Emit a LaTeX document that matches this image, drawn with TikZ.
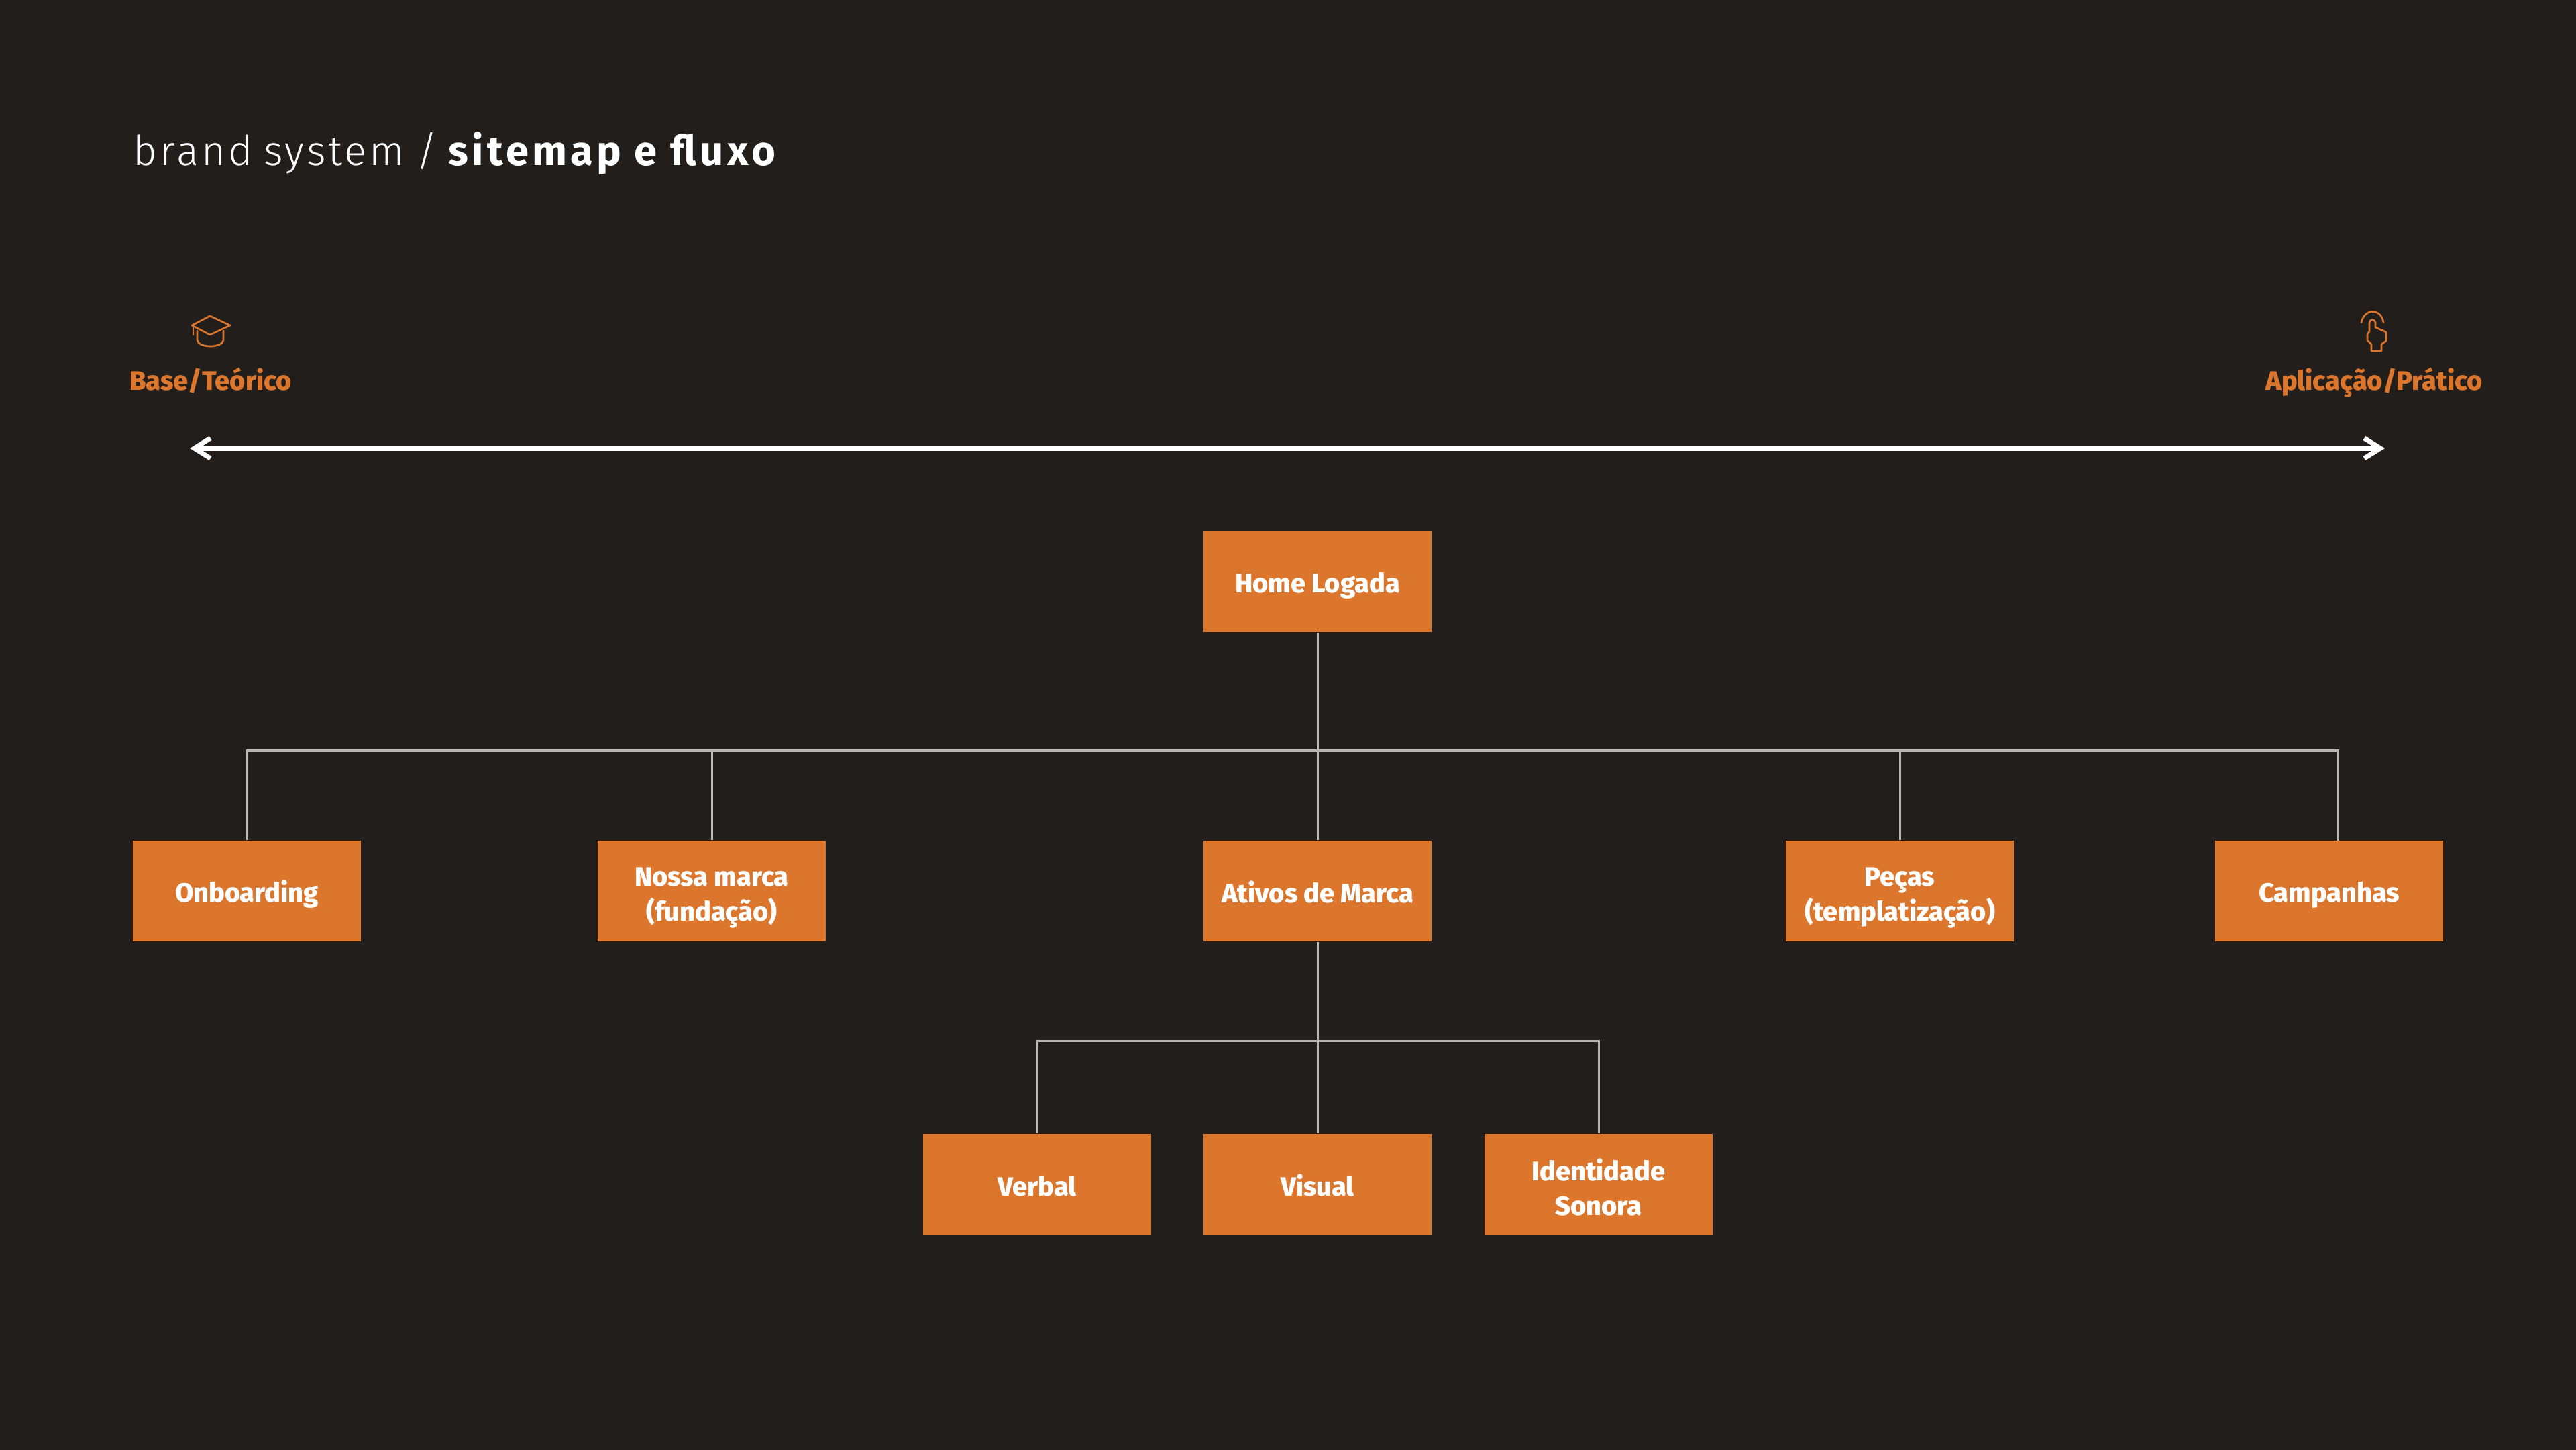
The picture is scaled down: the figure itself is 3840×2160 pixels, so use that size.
\documentclass[tikz,border=0pt]{standalone}
\usepackage{fontspec}
\setmainfont{Fira Sans}
\newfontfamily\titlefont[LetterSpace=6.5, WordSpace=0.8]{Fira Sans Light}
\newfontfamily\titleboldfont[LetterSpace=8.5]{Fira Sans}
\newfontfamily\boxfont{Fira Sans ExtraBold}
\usepackage{xcolor}
\usepackage{tikz}
\usetikzlibrary{arrows.meta, positioning, calc}
\definecolor{pagecolor}{RGB}{34,30,28}
\definecolor{boxcolor}{RGB}{220,118,45}
\definecolor{linkcolor}{RGB}{186,184,182}
\newcommand{\boxstrut}{\rule[-1.8pt]{0pt}{13.68pt}}
\newcommand{\topstrut}{\rule{0pt}{13.4pt}}
\tikzset{
    pagebox/.style={fill=boxcolor, text=white, minimum width=3.4cm, minimum height=1.5cm, inner sep=0pt, align=center, font=\fontsize{11.3}{14.7}\selectfont\boxfont, execute at begin node=\boxstrut, execute at end node=\boxstrut},
    link/.style={draw=linkcolor, line width=0.85pt},
    icon/.style={draw=boxcolor, line width=0.75pt, line join=round, line cap=round},
    sidelabel/.style={text=boxcolor, anchor=base, inner sep=0pt, font=\fontsize{11.3}{14}\selectfont\boxfont},
}

\begin{document}
\begin{tikzpicture}[x=0.01cm, y=-0.01cm, >={Straight Barb[length=2.4mm, width=3mm]}]
    \useasboundingbox (0, 0) rectangle (3840, 2160);
    \fill[pagecolor] (-20, -20) rectangle (3860, 2180);

    % Title
    \node[anchor=base west, inner sep=0pt, text=white, font=\fontsize{17.5}{20}\selectfont] (title) at (198, 246) {{\titlefont brand system /} {\titleboldfont\bfseries sitemap e fluxo}};

    % Scale
    \node[sidelabel] (base) at (314, 581) {Base/Teórico};
    \node[sidelabel] (pratico) at (3539, 581) {Aplicação/Prático};
    \coordinate (scaleleft) at (283, 668);
    \coordinate (scaleright) at (3555, 668);
    \draw[<->, white, line width=2pt] (scaleleft) -- (scaleright);

    % Hat
    \draw[icon] (286, 485) -- (313, 471) -- (343, 485) -- (313, 499) -- cycle;
    \draw[icon] (288, 487) -- (288, 499);
    \draw[icon] (294, 493) -- (294, 507) .. controls (296, 519) and (331, 519) .. (333, 507) -- (333, 493);

    % Hand
    \draw[icon] (3520, 481) .. controls (3524, 459) and (3550, 459) .. (3553, 481);
    \draw[icon] (3532, 494) -- (3532, 481) .. controls (3533, 475) and (3540, 475) .. (3541, 481) -- (3541, 488) -- (3557, 495) -- (3557, 508) -- (3550, 513) -- (3550, 523) -- (3535, 523) -- (3535, 513) -- (3529, 507) -- (3529, 498) -- cycle;

    % Pages
    \node[pagebox] (home) at (1964, 867) {Home Logada};
    \node[pagebox] (onboarding) at (368, 1328) {Onboarding};
    \node[pagebox] (nossa) at (1061, 1328) {\topstrut Nossa marca\\(fundação)};
    \node[pagebox] (ativos) at (1964, 1328) {Ativos de Marca};
    \node[pagebox] (pecas) at (2832, 1328) {\topstrut Peças\\(templatização)};
    \node[pagebox] (campanhas) at (3472, 1328) {Campanhas};
    \node[pagebox] (verbal) at (1546, 1765) {Verbal};
    \node[pagebox] (visual) at (1964, 1765) {Visual};
    \node[pagebox] (sonora) at (2383, 1765) {\topstrut Identidade\\Sonora};

    % Connectors
    \coordinate (hubtop) at (1964, 1118);
    \coordinate (hubbottom) at (1964, 1551);
    \coordinate (campanhasin) at (3485, 1253);
    \draw[link] (home) -- (ativos);
    \draw[link] (onboarding.north) |- (hubtop);
    \draw[link] (nossa.north) |- (hubtop);
    \draw[link] (pecas.north) |- (hubtop);
    \draw[link] (campanhasin) |- (hubtop);
    \draw[link] (ativos) -- (visual);
    \draw[link] (verbal.north) |- (hubbottom);
    \draw[link] (sonora.north) |- (hubbottom);
\end{tikzpicture}
\end{document}
